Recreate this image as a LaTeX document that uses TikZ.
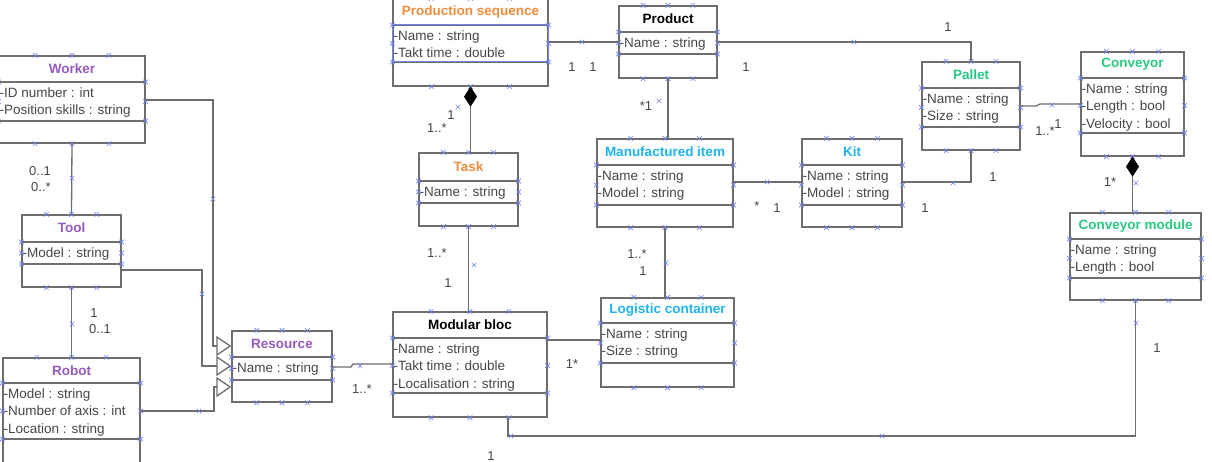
\documentclass[tikz,border=0pt]{standalone}
\usepackage{fontspec}
\setmainfont{Liberation Sans}
\usetikzlibrary{arrows.meta, positioning, calc, fit, shapes.misc}
\definecolor{umlgray}{RGB}{110,110,110}
\definecolor{umltext}{RGB}{70,70,70}
\definecolor{umlpurple}{RGB}{150,90,190}
\definecolor{umlorange}{RGB}{240,140,60}
\definecolor{umlcyan}{RGB}{30,180,235}
\definecolor{umlgreen}{RGB}{40,200,130}
\definecolor{markblue}{RGB}{110,130,240}

\tikzset{
  umlline/.style={draw=umlgray, line width=1.3pt},
  umlbox/.style={umlline, inner sep=0pt},
  ttl/.style={font=\fontsize{13.5}{16}\selectfont\bfseries, inner sep=0pt},
  attr/.style={font=\fontsize{13.5}{17.5}\selectfont, text=umltext, align=left, inner xsep=1pt, inner ysep=5.5pt},
  mult/.style={font=\fontsize{13}{15}\selectfont, text=umltext, inner sep=0pt},
  mk/.style={cross out, draw=markblue, line width=0.6pt, minimum size=4pt, inner sep=0pt},
  gen/.style={umlline, -{Triangle[open, length=15pt, width=20pt]}},
  comp/.style={umlline, {Diamond[length=20pt, width=13pt, color=black, fill=black]}-},
}

% class box: name, corner, corner, separator 1, separator 2, title colour, title, attributes
\newcommand{\umlclass}[8]{%
  \node[umlbox, fit={#2 #3}] (#1) {};
  \draw[umlline] (#1.west |- 0,#4) -- (#1.east |- 0,#4)
                 (#1.west |- 0,#5) -- (#1.east |- 0,#5);
  \node[ttl, text=#6] (#1-title) at ($(#1.north)!0.5!(#1.north |- 0,#4)$) {#7};
  \node[attr, anchor=north west] (#1-attr) at (#1.west |- 0,#4) {#8};
  \foreach \fr [count=\k] in {0.25,0.5,0.75}{
    \node[mk] (#1-n\k) at ($(#1.north west)!\fr!(#1.north east)$) {};
    \node[mk] (#1-s\k) at ($(#1.south west)!\fr!(#1.south east)$) {};
  }
  \foreach \yy [count=\k] in {#4,#5}{
    \node[mk] (#1-w\k) at (#1.west |- 0,\yy) {};
    \node[mk] (#1-e\k) at (#1.east |- 0,\yy) {};
  }
  \node[mk] (#1-wm) at ($(#1.west |- 0,#4)!0.5!(#1.west |- 0,#5)$) {};
  \node[mk] (#1-em) at ($(#1.east |- 0,#4)!0.5!(#1.east |- 0,#5)$) {};
}

\begin{document}
\begin{tikzpicture}[x=1pt, y=-1pt]
\fill[white] (0,0) rectangle (1212,462);
\useasboundingbox (0,0) rectangle (1212,462);

% Classes
\umlclass{worker}{(-1,56)}{(145,143)}{82}{121}{umlpurple}{Worker}{-ID number : int\\-Position skills : string}
\umlclass{tool}{(22,215)}{(121,287)}{242}{264}{umlpurple}{Tool}{-Model : string}
\umlclass{robot}{(3,358)}{(140,464)}{383}{439}{umlpurple}{Robot}{-Model : string\\-Number of axis : int\\-Location : string}
\umlclass{resource}{(232,331)}{(332,402)}{357}{380}{umlpurple}{Resource}{-Name : string}
\umlclass{bloc}{(393,312)}{(547,417)}{338}{393}{black}{Modular bloc}{-Name : string\\-Takt time : double\\-Localisation : string}
\umlclass{task}{(419,153)}{(518,226)}{181}{203}{umlorange}{Task}{-Name : string}
\umlclass{prodseq}{(393,-1)}{(548,86)}{25}{62}{umlorange}{Production sequence}{-Name : string\\-Takt time : double}
\umlclass{product}{(619,6)}{(717,78)}{32}{54}{black}{Product}{-Name : string}
\umlclass{manuf}{(597,139)}{(733,227)}{165}{205}{umlcyan}{Manufactured item}{-Name : string\\-Model : string}
\umlclass{kit}{(802,139)}{(902,227)}{165}{205}{umlcyan}{Kit}{-Name : string\\-Model : string}
\umlclass{logistic}{(601,298)}{(734,387)}{323}{363}{umlcyan}{Logistic container}{-Name : string\\-Size : string}
\umlclass{pallet}{(922,62)}{(1020,150)}{88}{127}{umlgreen}{Pallet}{-Name : string\\-Size : string}
\umlclass{conveyor}{(1081,52)}{(1184,156)}{78}{133}{umlgreen}{Conveyor}{-Name : string\\-Length : bool\\-Velocity : bool}
\umlclass{module}{(1070,213)}{(1201,300)}{239}{278}{umlgreen}{Conveyor module}{-Name : string\\-Length : bool}

% selected compartment
\draw[markblue, line width=1pt] (prodseq.west |- 0,25) rectangle (prodseq.east |- 0,62);

% Associations
\draw[umlline] (worker.south) -- (tool.north);
\draw[umlline] (tool.south) -- (robot.north);
\draw[gen] (worker.east |- 0,100) -| (213,346) -- (resource.west |- 0,346);
\draw[gen] (tool.east |- 0,270) -| (202,366) -- (resource.west |- 0,366);
\draw[gen] (robot.east |- 0,411) -| (214,387) -- (resource.west |- 0,387);
\draw[umlline] (resource.east |- 0,367) -- (351,367) -- (353,364) -- (bloc.west |- 0,364);
\draw[umlline] (task.south) -- (task.south |- bloc.north);
\draw[comp] (prodseq.south) -- (prodseq.south |- task.north);
\draw[umlline] (prodseq.east |- 0,42) -- (product.west |- 0,42);
\draw[umlline] (product.east |- 0,42) -| (pallet.north);
\draw[umlline] (product.south) -- (product.south |- manuf.north);
\draw[umlline] (manuf.east |- 0,182) -- (kit.west |- 0,182);
\draw[umlline] (kit.east |- 0,182) -| (pallet.south);
\draw[umlline] (pallet.east |- 0,106) -- (1036,106) -- (1040,104) -- (conveyor.west |- 0,104);
\draw[comp] (conveyor.south) -- (conveyor.south |- module.north);
\draw[umlline] (manuf.south) -- (manuf.south |- logistic.north);
\draw[umlline] (bloc.east |- 0,340) -- (logistic.west |- 0,340);
\draw[umlline] (bloc.south -| 508,0) |- (module.south |- 0,436) -- (module.south);

% connector handles
\foreach \p [count=\i] in {(72,178),(213,199),(72,324),(202,294),(199,411),(360,366),
  (474,265),(582,42),(854,42),(659,101),(767,182),(953,183),(1052,105),(1136,183),
  (666,263),(511,436),(882,436),(1136,323),(458,107)}
  \node[mk] (h\i) at \p {};

% Multiplicities
\node[mult] (m1) at (40,171) {0..1};
\node[mult] (m2) at (41,187) {0..*};
\node[mult] (m3) at (94,313) {1};
\node[mult] (m4) at (100,329) {0..1};
\node[mult] (m5) at (362,389) {1..*};
\node[mult] (m6) at (437,253) {1..*};
\node[mult] (m7) at (448,283) {1};
\node[mult] (m8) at (451,115) {1};
\node[mult] (m9) at (437,128) {1..*};
\node[mult] (m10) at (572,67) {1};
\node[mult] (m11) at (593,67) {1};
\node[mult] (m12) at (746,67) {1};
\node[mult] (m13) at (948,27) {1};
\node[mult] (m14) at (646,106) {*1};
\node[mult] (m15) at (757,206) {*};
\node[mult] (m16) at (777,208) {1};
\node[mult] (m17) at (993,177) {1};
\node[mult] (m18) at (925,208) {1};
\node[mult] (m19) at (1045,131) {1..*};
\node[mult] (m20) at (1058,124) {1};
\node[mult] (m21) at (1110,182) {1*};
\node[mult] (m22) at (637,254) {1..*};
\node[mult] (m23) at (643,271) {1};
\node[mult] (m24) at (572,364) {1*};
\node[mult] (m25) at (1157,348) {1};
\node[mult] (m26) at (491,456) {1};
\end{tikzpicture}
\end{document}
